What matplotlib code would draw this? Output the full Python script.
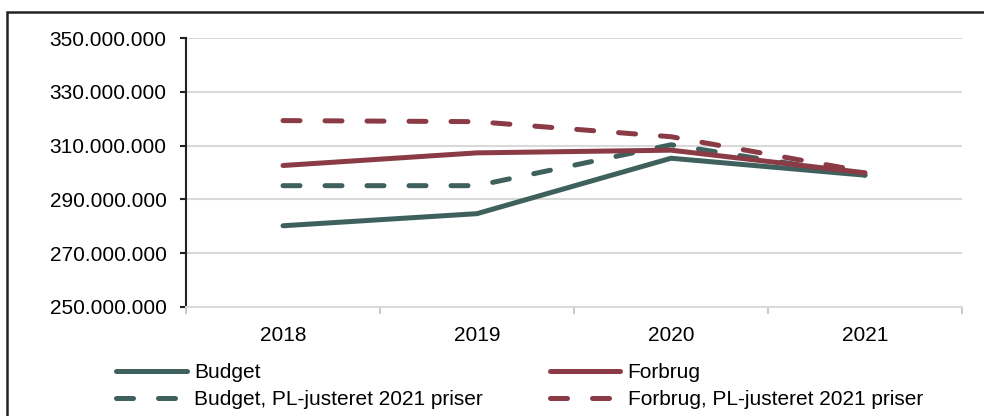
import matplotlib
matplotlib.use("Agg")
import matplotlib.pyplot as plt
import matplotlib.patches as patches
from matplotlib.ticker import FuncFormatter, FixedLocator, NullFormatter

plt.rcParams['font.family'] = ['Liberation Sans', 'DejaVu Sans']

years = ["2018", "2019", "2020", "2021"]
budget = [280200000, 284700000, 305300000, 299000000]
forbrug = [302600000, 307300000, 308300000, 299900000]
budget_pl = [295100000, 295100000, 310300000, 299000000]
forbrug_pl = [319300000, 318900000, 313300000, 300300000]

green = "#3f615d"
red = "#8b3b45"

fig = plt.figure(figsize=(9.84, 4.16), dpi=100)
ax = fig.add_axes([186/984, 1 - 307/416, 776/984, 269/416])

x = range(len(years))
lw = 3.6
dash = (3.4, 5.0)
ax.plot(x, budget, color=green, lw=lw, solid_capstyle="round", label="Budget", zorder=3)
ax.plot(x, budget_pl, color=green, lw=lw, dashes=dash, dash_capstyle="round",
        label="Budget, PL-justeret 2021 priser", zorder=3)
ax.plot(x, forbrug, color=red, lw=lw, solid_capstyle="round", label="Forbrug", zorder=3)
ax.plot(x, forbrug_pl, color=red, lw=lw, dashes=dash, dash_capstyle="round",
        label="Forbrug, PL-justeret 2021 priser", zorder=3)

ax.set_xlim(-0.5, 3.5)
ax.set_ylim(250000000, 350000000)
ax.set_yticks(range(250000000, 350000001, 20000000))
ax.yaxis.set_major_formatter(FuncFormatter(lambda v, p: "{:,.0f}".format(v).replace(",", ".")))
ax.grid(axis="y", color="#d9d9d9", lw=1.5, zorder=0)

# category labels centred, tick marks between categories
ax.xaxis.set_major_locator(FixedLocator([-0.5, 0.5, 1.5, 2.5, 3.5]))
ax.xaxis.set_major_formatter(NullFormatter())
ax.xaxis.set_minor_locator(FixedLocator(list(x)))
ax.set_xticklabels(years, minor=True)
ax.tick_params(axis="x", which="minor", length=0, labelsize=15, pad=14)
ax.tick_params(axis="x", which="major", length=5, color="#bfbfbf", width=1.2)
ax.tick_params(axis="y", length=4, width=1.5, color="#222222", labelsize=15, pad=10)

for s in ["top", "right"]:
    ax.spines[s].set_visible(False)
ax.spines["left"].set_color("#222222")
ax.spines["left"].set_linewidth(1.5)
ax.spines["bottom"].set_color("#d9d9d9")
ax.spines["bottom"].set_linewidth(1.5)

fig.legend(loc="upper left", bbox_to_anchor=(116/984, 1 - 363/416), ncol=2,
           frameon=False, fontsize=15, handlelength=3.4, handletextpad=0.35,
           columnspacing=3.2, labelspacing=0.38, borderaxespad=0, borderpad=0)

frame = patches.Rectangle((7/984, -0.2), 1.2, 1 - 12/416 + 0.2, transform=fig.transFigure,
                          fill=False, edgecolor="#222222", lw=1.8, clip_on=False)
fig.patches.append(frame)

fig.savefig("out.png", dpi=100)
